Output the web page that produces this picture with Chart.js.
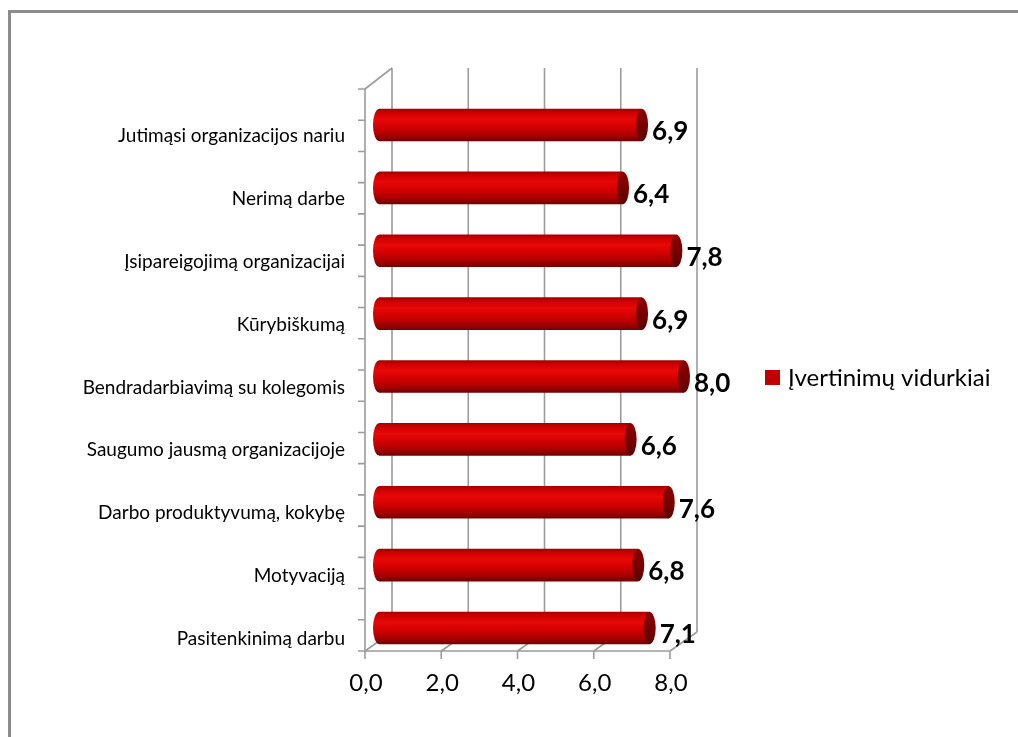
<!DOCTYPE html>
<html>
<head>
<meta charset="utf-8">
<script src="https://cdn.jsdelivr.net/npm/chart.js@4.4.0/dist/chart.umd.min.js"></script>
<style>
  html, body { margin: 0; padding: 0; background: #fff; }
  #wrap { position: relative; width: 1018px; height: 737px; }
  #frame { position: absolute; left: 8px; top: 10px; right: 0; bottom: 0;
           border-top: 3px solid #8c8c8c; border-left: 3px solid #8c8c8c; }
  canvas { position: absolute; left: 0; top: 0; }
</style>
</head>
<body>
<div id="wrap">
  <div id="frame"></div>
  <canvas id="chart" width="1018" height="737"></canvas>
</div>
<script>
// --- duomenys ---
const categories = [
    'Jutimąsi organizacijos nariu',
    'Nerimą darbe',
    'Įsipareigojimą organizacijai',
    'Kūrybiškumą',
    'Bendradarbiavimą su kolegomis',
    'Saugumo jausmą organizacijoje',
    'Darbo produktyvumą, kokybę',
    'Motyvaciją',
    'Pasitenkinimą darbu'
];
const values = [6.9, 6.4, 7.8, 6.9, 8.0, 6.6, 7.6, 6.8, 7.1];
const seriesLabel = 'Įvertinimų vidurkiai';
const xTicks = [0, 2, 4, 6, 8];

const FONT = 'Lato, "Open Sans", sans-serif';
const fmt = v => v.toFixed(1).replace('.', ',');

// 3D poslinkiai
const BACK_DX = 13, BACK_DY = -19;   // nuo barų plokštumos iki galinės sienos
const FRONT_DX = -14;                 // nuo barų plokštumos iki priekio
const FRONT_TOP = 89, FRONT_BOTTOM = 651, BACK_TOP = 68;
const BAR_H = 32, CAP_RX = 6;

function barGradient(ctx, yTop) {
    const g = ctx.createLinearGradient(0, yTop, 0, yTop + BAR_H);
    g.addColorStop(0, '#a30000');
    g.addColorStop(0.12, '#d00000');
    g.addColorStop(0.32, '#e80808');
    g.addColorStop(0.6, '#cf0000');
    g.addColorStop(0.85, '#a20000');
    g.addColorStop(1, '#700000');
    return g;
}

// ašys, tinklelis ir 3D rėmas
const gridPlugin = {
    id: 'grid3d',
    beforeDatasetsDraw(chart) {
        const { ctx, scales: { x } } = chart;
        const backBottom = FRONT_BOTTOM + BACK_DY;
        ctx.save();
        ctx.strokeStyle = '#9c9c9c';
        ctx.lineWidth = 1.6;
        ctx.beginPath();
        xTicks.forEach(v => {
            const px = x.getPixelForValue(v);
            const fx = px + FRONT_DX, bx = px + BACK_DX;
            ctx.moveTo(bx, BACK_TOP); ctx.lineTo(bx, backBottom);
            ctx.moveTo(fx, FRONT_BOTTOM); ctx.lineTo(bx, backBottom);
            ctx.moveTo(fx, FRONT_BOTTOM); ctx.lineTo(fx, FRONT_BOTTOM + 8);
        });
        const f0 = x.getPixelForValue(0) + FRONT_DX;
        const f8 = x.getPixelForValue(xTicks[xTicks.length - 1]) + FRONT_DX;
        const b0 = x.getPixelForValue(0) + BACK_DX;
        // priekinė x ašis
        ctx.moveTo(f0, FRONT_BOTTOM); ctx.lineTo(f8, FRONT_BOTTOM);
        // kairė siena
        ctx.moveTo(f0, FRONT_TOP); ctx.lineTo(f0, FRONT_BOTTOM);
        ctx.moveTo(f0, FRONT_TOP); ctx.lineTo(b0, BACK_TOP);
        const n = categories.length * 2;
        for (let i = 0; i <= n; i++) {
            const y = FRONT_TOP + (FRONT_BOTTOM - FRONT_TOP) * i / n;
            ctx.moveTo(f0 - 7, y); ctx.lineTo(f0, y);
        }
        ctx.stroke();
        ctx.restore();
    }
};

// cilindrų galai, reikšmės ir legenda
const cylinderPlugin = {
    id: 'cylinder',
    afterDatasetsDraw(chart) {
        const { ctx } = chart;
        const meta = chart.getDatasetMeta(0);
        const x0 = chart.scales.x.getPixelForValue(0);
        ctx.save();
        meta.data.forEach((bar, i) => {
            const top = bar.y - BAR_H / 2;
            // kairysis apvalus galas
            ctx.fillStyle = barGradient(ctx, top);
            ctx.beginPath();
            ctx.ellipse(x0, bar.y, CAP_RX, BAR_H / 2, 0, Math.PI / 2, Math.PI * 1.5);
            ctx.fill();
            // dešinysis galas
            const cg = ctx.createLinearGradient(0, top, 0, top + BAR_H);
            cg.addColorStop(0, '#8a0000');
            cg.addColorStop(0.5, '#7a0000');
            cg.addColorStop(1, '#5a0000');
            ctx.fillStyle = cg;
            ctx.beginPath();
            ctx.ellipse(bar.x, bar.y, CAP_RX, BAR_H / 2, 0, 0, Math.PI * 2);
            ctx.fill();
            // reikšmė
            ctx.fillStyle = '#000';
            ctx.font = 'bold 26px ' + FONT;
            ctx.textAlign = 'left';
            ctx.textBaseline = 'middle';
            ctx.fillText(fmt(values[i]), bar.x + CAP_RX + 4, bar.y + 7);
        });
        // legenda
        const ds = chart.data.datasets[0];
        ctx.fillStyle = '#c00000';
        ctx.fillRect(765, 370, 15, 15);
        ctx.fillStyle = '#000';
        ctx.font = '24px ' + FONT;
        ctx.textAlign = 'left';
        ctx.textBaseline = 'middle';
        ctx.fillText(ds.label, 788, 378);
        ctx.restore();
    }
};

const ctx = document.getElementById('chart').getContext('2d');
new Chart(ctx, {
    type: 'bar',
    data: {
        labels: categories,
        datasets: [{
            label: seriesLabel,
            data: values,
            barThickness: BAR_H,
            borderWidth: 0,
            backgroundColor: (c) => {
                const chart = c.chart;
                if (!chart.chartArea || c.dataIndex === undefined) return '#d00000';
                const y = chart.scales.y.getPixelForValue(c.dataIndex);
                return barGradient(chart.ctx, y - BAR_H / 2);
            }
        }]
    },
    plugins: [gridPlugin, cylinderPlugin],
    options: {
        indexAxis: 'y',
        responsive: false,
        animation: false,
        layout: { padding: { top: 93.6, right: 334, left: 0, bottom: 0 } },
        plugins: {
            legend: { display: false },
            tooltip: { enabled: false }
        },
        scales: {
            x: {
                min: 0,
                max: 8,
                afterFit: (s) => { s.height = 737 - 659.4; },
                afterBuildTicks: (s) => { s.ticks = xTicks.map(v => ({ value: v })); },
                grid: { display: false },
                border: { display: false },
                ticks: {
                    color: '#000',
                    font: { family: FONT, size: 24 },
                    padding: 1,
                    labelOffset: FRONT_DX + 1,
                    callback: (v) => fmt(v)
                }
            },
            y: {
                afterFit: (s) => { s.width = 379; },
                grid: { display: false },
                border: { display: false },
                ticks: {
                    color: '#000',
                    font: { family: FONT, size: 19 },
                    padding: 26,
                    labelOffset: 11
                }
            }
        }
    }
});
</script>
</body>
</html>
